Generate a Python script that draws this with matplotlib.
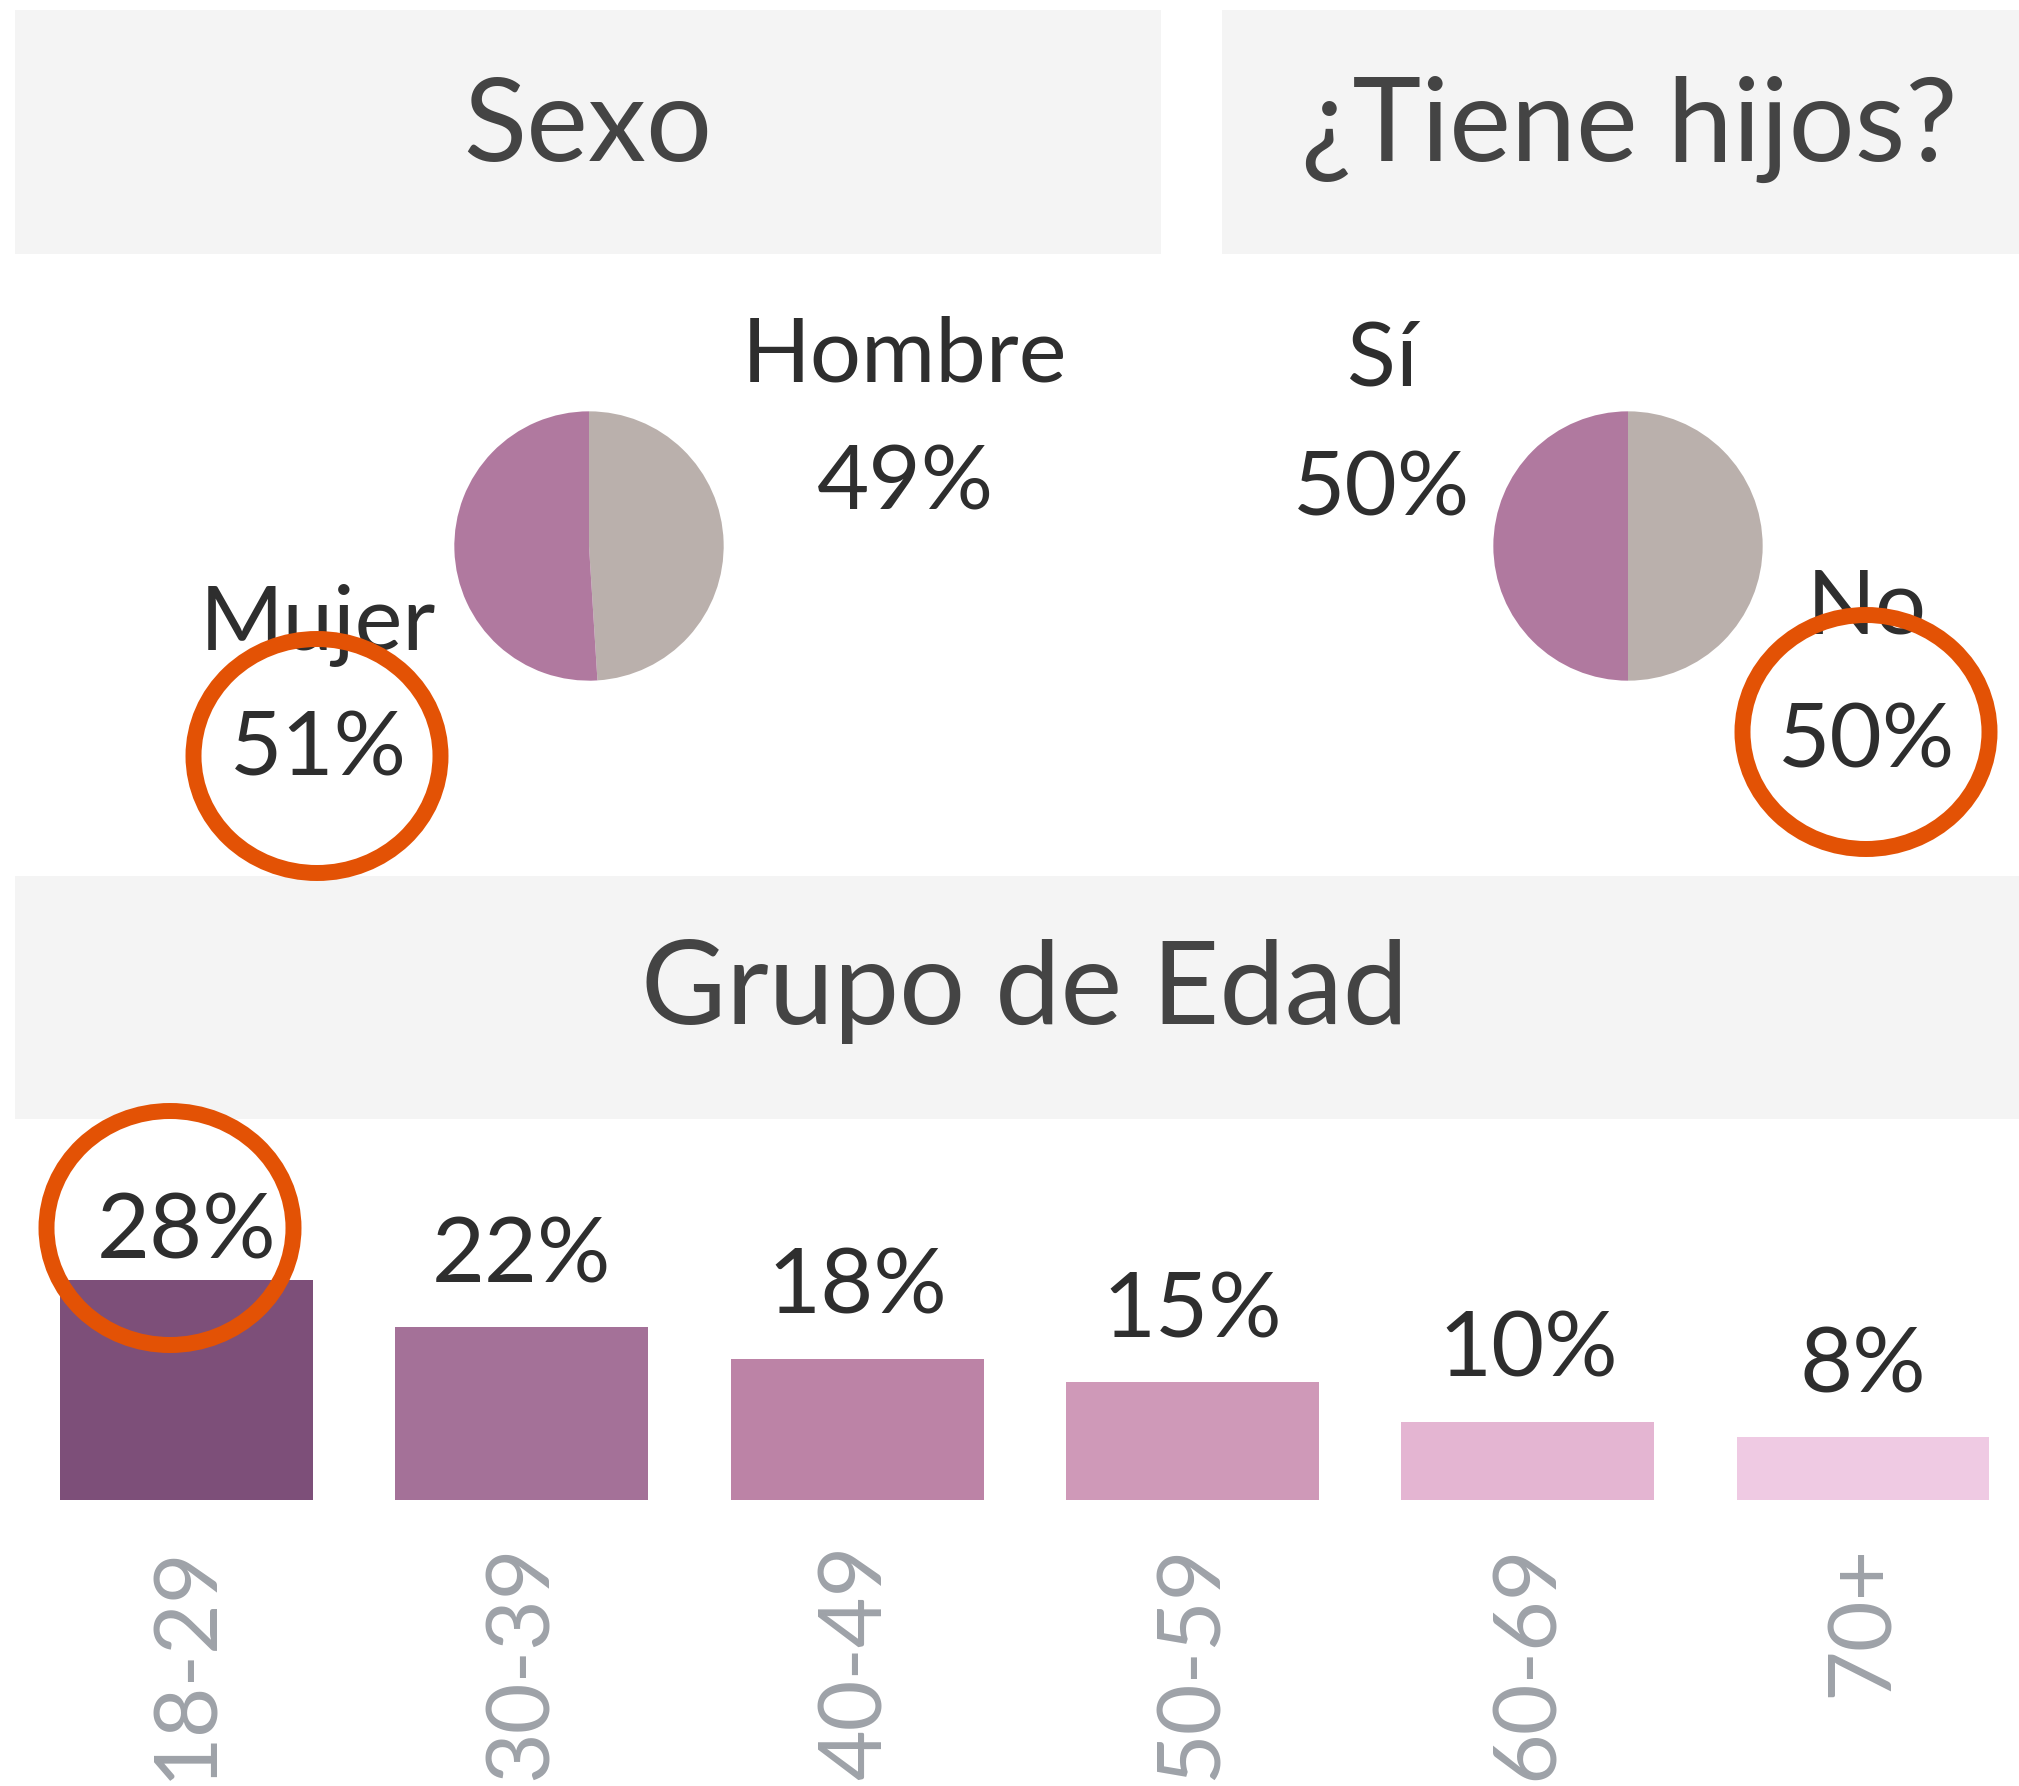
import numpy as np
import matplotlib
matplotlib.use("Agg")
import matplotlib.pyplot as plt
from matplotlib.patches import Rectangle, Ellipse

# --- survey profile: sex, children, age group ---

sexo_labels = ["Hombre", "Mujer"]
sexo_vals = [49, 51]

hijos_labels = ["No", "Sí"]
hijos_vals = [50, 50]

edad_labels = ["18-29", "30-39", "40-49", "50-59", "60-69", "70+"]
edad_vals = [28, 22, 18, 15, 10, 8]

PURPLE = "#B0799F"
GREY = "#BAB0AC"
BAR_COLORS = ["#7D4F79", "#A47198", "#BC83A6", "#CF99B8", "#E4B5D2", "#EFCAE3"]
HEADER_BG = "#F4F4F4"
TXT = "#2e2e2e"
ORANGE = "#E35205"

plt.rcParams["font.family"] = ["Lato", "DejaVu Sans"]

W, H = 2019, 1786
fig = plt.figure(figsize=(W / 100, H / 100), dpi=100)


def px_axes(x0, y0, x1, y1):
    # axes placed by pixel box, y measured from the top
    return fig.add_axes([x0 / W, 1 - y1 / H, (x1 - x0) / W, (y1 - y0) / H])


# pies
def draw_pie(cx, cy, vals, colors):
    ax = px_axes(cx - 202, cy - 202, cx + 202, cy + 202)
    ax.pie(vals, colors=colors, startangle=90, counterclock=False, radius=1,
           wedgeprops=dict(linewidth=0))
    ax.set_xlim(-1.5, 1.5)
    ax.set_ylim(-1.5, 1.5)
    ax.set_aspect("equal")
    ax.axis("off")
    return ax


draw_pie(589, 546, sexo_vals, [GREY, PURPLE])
draw_pie(1628, 546, hijos_vals, [GREY, PURPLE])

# age-group bars
px_per_pct = 7.85
bx = px_axes(15, 1119, 2019, 1500)
x = np.arange(len(edad_vals))
vals = np.array(edad_vals)
bx.bar(x, vals, width=0.754, color=BAR_COLORS)
bx.set_xlim(-0.5115, 5.465)
bx.set_ylim(0, 381 / px_per_pct)
for s in bx.spines.values():
    s.set_visible(False)
bx.set_yticks([])
bx.set_xticks(x)
bx.set_xticklabels(edad_labels, rotation=90, fontsize=63, color="#9ea2a8")
bx.tick_params(axis="x", length=0, pad=32)
bx.patch.set_alpha(0)

label_y = np.minimum(vals + 45 / px_per_pct, 28 + 22 / px_per_pct)
for xi, v, ly in zip(x, vals, label_y):
    bx.text(xi, ly, f"{v}%", ha="center", va="baseline", fontsize=66, color=TXT)

# overlay: headers, pie labels and highlight rings
ov = fig.add_axes([0, 0, 1, 1])
ov.set_xlim(0, W)
ov.set_ylim(H, 0)
ov.axis("off")
ov.patch.set_alpha(0)

for (x0, y0, w, h) in [(15, 10, 1146, 244), (1222, 10, 820, 244), (15, 876, 2010, 243)]:
    ov.add_patch(Rectangle((x0, y0), w, h, facecolor=HEADER_BG, edgecolor="none", zorder=0))

title_kw = dict(ha="center", va="baseline", fontsize=84, color="#444444")
ov.text(588, 161, "Sexo", **title_kw)
ov.text(1629, 161, "¿Tiene hijos?", **title_kw)
ov.text(1025, 1024, "Grupo de Edad", **title_kw)

pie_text = [
    (sexo_labels[0], sexo_vals[0], 905, 382, 509),
    (sexo_labels[1], sexo_vals[1], 318, 650, 776),
    (hijos_labels[1], hijos_vals[1], 1382, 386, 515),
    (hijos_labels[0], hijos_vals[0], 1867, 633, 767),
]
for name, v, tx, y_name, y_pct in pie_text:
    ov.text(tx, y_name, name, ha="center", va="baseline", fontsize=65, color=TXT)
    ov.text(tx, y_pct, f"{v}%", ha="center", va="baseline", fontsize=65, color=TXT)

for cx, cy in [(317, 756), (1866, 732), (170, 1228)]:
    ov.add_patch(Ellipse((cx, cy), 247, 234, fill=False, edgecolor=ORANGE, linewidth=11.5, zorder=5))

fig.savefig("out.png", dpi=100)
